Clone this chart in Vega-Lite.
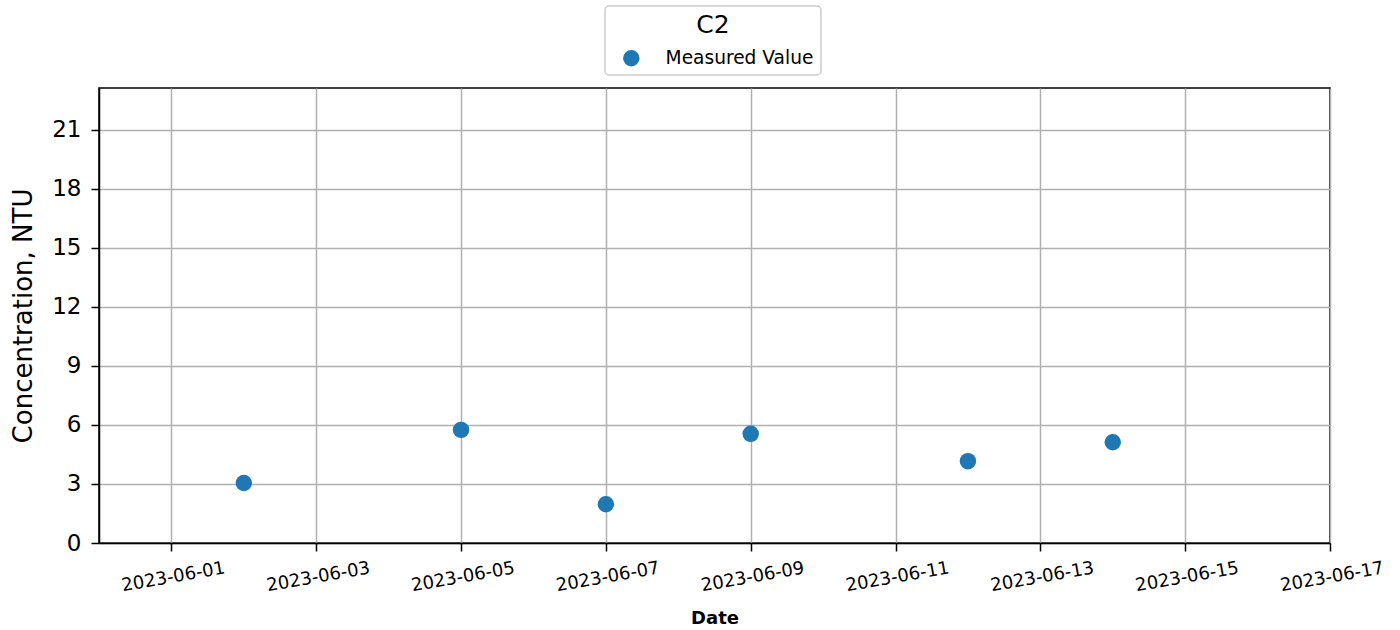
{
  "$schema": "https://vega.github.io/schema/vega-lite/v6.json",
  "autosize": {"type": "none"},
  "padding": {"left": 99, "top": 88, "right": 70, "bottom": 87},
  "width": 1231,
  "height": 455,
  "background": "white",
  "config": {
    "font": "DejaVu Sans",
    "view": {"stroke": "black", "strokeWidth": 1.5},
    "legend": {"strokeWidth": 1.5}
  },
  "data": {
    "values": [
      {"Date": "2023-06-02", "Value": 3.05, "Series": "Measured Value"},
      {"Date": "2023-06-05", "Value": 5.75, "Series": "Measured Value"},
      {"Date": "2023-06-07", "Value": 1.97, "Series": "Measured Value"},
      {"Date": "2023-06-09", "Value": 5.55, "Series": "Measured Value"},
      {"Date": "2023-06-12", "Value": 4.16, "Series": "Measured Value"},
      {"Date": "2023-06-14", "Value": 5.12, "Series": "Measured Value"}
    ]
  },
  "mark": {"type": "point", "shape": "circle", "filled": true, "size": 270, "opacity": 1},
  "encoding": {
    "x": {
      "field": "Date",
      "type": "temporal",
      "scale": {"type": "utc", "domain": [{"year": 2023, "month": 5, "date": 31, "utc": true}, {"year": 2023, "month": 6, "date": 17, "utc": true}]},
      "axis": {
        "title": "Date",
        "titleFont": "DejaVu Sans",
        "titleFontWeight": "bold",
        "titleFontSize": 18,
        "titleColor": "black",
        "titlePadding": 15,
        "format": "%Y-%m-%d",
        "values": [
          {"year": 2023, "month": 6, "date": 1, "utc": true},
          {"year": 2023, "month": 6, "date": 3, "utc": true},
          {"year": 2023, "month": 6, "date": 5, "utc": true},
          {"year": 2023, "month": 6, "date": 7, "utc": true},
          {"year": 2023, "month": 6, "date": 9, "utc": true},
          {"year": 2023, "month": 6, "date": 11, "utc": true},
          {"year": 2023, "month": 6, "date": 13, "utc": true},
          {"year": 2023, "month": 6, "date": 15, "utc": true},
          {"year": 2023, "month": 6, "date": 17, "utc": true}
        ],
        "labelAngle": -10,
        "labelAlign": "center",
        "labelBaseline": "top",
        "labelFontSize": 18,
        "labelColor": "black",
        "labelPadding": 17,
        "labelOverlap": false,
        "labelFlush": false,
        "domainColor": "black",
        "domainWidth": 1.5,
        "tickColor": "black",
        "tickWidth": 1.5,
        "tickSize": 8,
        "gridColor": "#b0b0b0",
        "gridWidth": 1.5,
        "gridOpacity": 1
      }
    },
    "y": {
      "field": "Value",
      "type": "quantitative",
      "scale": {"domain": [0, 23.13], "nice": false, "zero": true},
      "axis": {
        "title": "Concentration, NTU",
        "titleFont": "DejaVu Sans",
        "titleFontWeight": "normal",
        "titleFontSize": 26,
        "titleColor": "black",
        "titlePadding": 15,
        "values": [0, 3, 6, 9, 12, 15, 18, 21],
        "labelFontSize": 23,
        "labelColor": "black",
        "labelPadding": 10,
        "domainColor": "black",
        "domainWidth": 1.5,
        "tickColor": "black",
        "tickWidth": 1.5,
        "tickSize": 8,
        "gridColor": "#b0b0b0",
        "gridWidth": 1.5,
        "gridOpacity": 1
      }
    },
    "color": {
      "field": "Series",
      "type": "nominal",
      "scale": {"range": ["#1f77b4"]},
      "legend": {
        "title": "C2",
        "orient": "none",
        "legendX": 506,
        "legendY": -82,
        "direction": "vertical",
        "titleFontSize": 25,
        "titleFontWeight": "normal",
        "titleColor": "black",
        "titleAnchor": "middle",
        "titleAlign": "center",
        "titlePadding": 11,
        "labelFontSize": 18.6,
        "labelColor": "black",
        "labelOffset": 25,
        "symbolSize": 270,
        "symbolType": "circle",
        "symbolOpacity": 1,
        "symbolOffset": 10,
        "padding": 7,
        "strokeColor": "#cccccc",
        "fillColor": "white",
        "cornerRadius": 4,
        "offset": 0
      }
    }
  }
}
